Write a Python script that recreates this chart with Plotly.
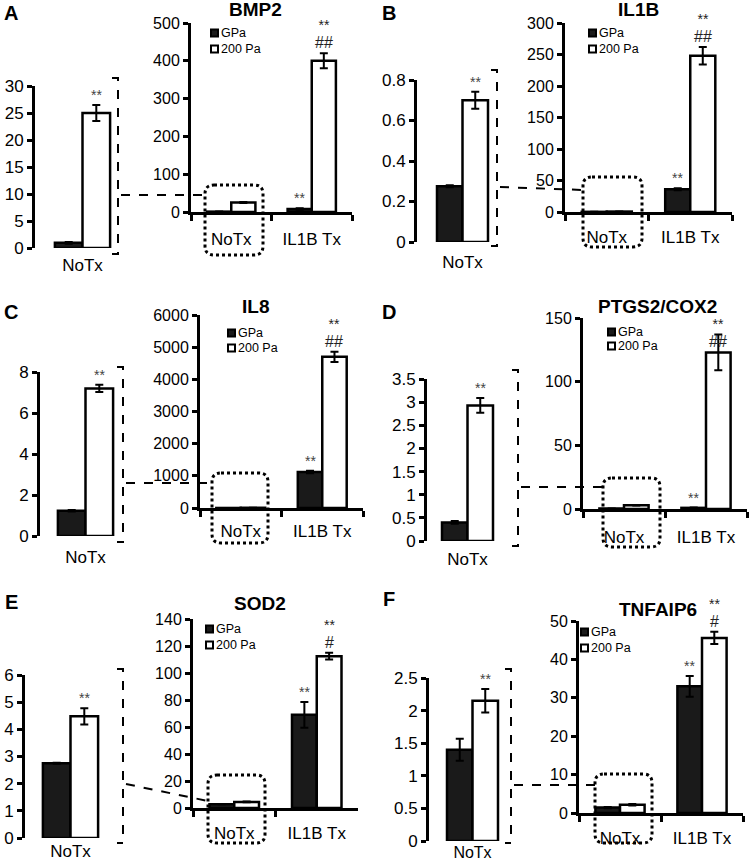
import plotly.graph_objects as go

W, H = 750, 866

# ---------------- data ----------------
genes = ["BMP2", "IL1B", "IL8", "PTGS2/COX2", "SOD2", "TNFAIP6"]
panel_letters = ["A", "B", "C", "D", "E", "F"]
categories = ["NoTx", "IL1B Tx"]
series_names = ["GPa", "200 Pa"]

gpa_notx = [0.95, 0.275, 1.23, 0.40, 2.75, 1.40]
gpa_notx_err = [0.15, 0.005, 0.04, 0.03, 0.02, 0.17]
pa200_notx = [25.0, 0.70, 7.2, 2.93, 4.48, 2.15]
pa200_notx_err = [1.5, 0.042, 0.18, 0.16, 0.30, 0.18]
gpa_il1b = [8, 36, 1120, 0.9, 69, 33]
gpa_il1b_err = [2, 1.5, 40, 0.2, 9.5, 2.7]
pa200_il1b = [400, 248, 4700, 123, 112.5, 45.6]
pa200_il1b_err = [20, 14, 160, 14, 2.5, 1.6]

inset_max = [30, 0.8, 8, 3.5, 6, 2.5]
inset_dtick = [5, 0.2, 2, 0.5, 1, 0.5]
main_max = [500, 300, 6000, 150, 140, 50]
main_dtick = [100, 50, 1000, 50, 20, 10]

sig_notx_200 = ["**", "**", "**", "**", "**", "**"]
sig_il1b_gpa = ["**", "**", "**", "**", "**", "**"]
sig_il1b_200_top = ["**", "**", "**", "**", "**", "**"]
sig_il1b_200_bottom = ["##", "##", "##", "##", "#", "#"]

# ---------------- layout geometry (pixels) ----------------
inset_x = [(36.5, 128.5), (420, 505), (39.5, 131.5), (425, 510), (24.5, 116.5), (430, 515)]
inset_axis_px = [33, 415, 38, 425, 23, 427]
inset_y = [(86, 248), (80, 242), (372, 536), (379, 541), (675, 838), (678, 841)]
inset_label_standoff = [5, 8, 9, 6, 1, 0]
inset_label_size = [17, 17, 17, 17, 17, 16]
main_x = [(191, 352), (565, 732), (200, 363), (583, 747), (193, 358), (579, 743)]
main_y = [(23, 212), (23, 212), (315, 508), (318, 509), (619, 808), (621, 813)]
main_label_standoff = [10, 8, 6, 11, 8, 8]
title_pos = [(255, 10), (638, 10), (255, 306), (657, 307), (260, 603), (658, 609)]
letter_pos = [(11, 13), (389, 13), (11, 312), (389, 312), (11, 602), (389, 599)]
legend_pos = [(210, 33, 49), (588, 33, 49), (227, 333, 348), (607, 332, 346), (205, 629, 645), (580, 632, 648)]
sig_yshift = [0, 0, 0, -17, 0, 0]
bracket = [(118, 78, 254), (497, 70, 246), (123, 367, 542), (518, 370, 546), (123, 669, 843), (511, 669, 843)]
box = [(205, 185, 263, 255), (583, 177, 642, 247), (212, 473, 268, 543),
       (603, 478, 660, 547), (208, 775, 265, 843), (595, 774, 652, 843)]
connector = [((121, 195), (205, 195)), ((500, 187), (583, 190)), ((126, 483), (212, 483)),
             ((521, 487), (603, 487)), ((126, 784), (208, 801)), ((514, 785), (595, 785))]

FONT = "Liberation Sans, Arial, sans-serif"
DARK = "#1a1a1a"


def fx(px):
    return px / W


def fy(py):
    return 1 - py / H


fig = go.Figure()
layout = dict(
    width=W, height=H, margin=dict(l=0, r=0, t=0, b=0, autoexpand=False),
    paper_bgcolor="white", plot_bgcolor="rgba(0,0,0,0)",
    barmode="group", bargap=0.4, bargroupgap=0, showlegend=False,
    font=dict(family=FONT, color="black"),
)
annotations = []
shapes = []


def err(arr):
    return dict(type="data", array=arr, color="black", thickness=2, width=4)


for k in range(6):
    ia = 2 * k + 1
    ma = 2 * k + 2
    ixn = "x" if ia == 1 else f"x{ia}"
    iyn = "y" if ia == 1 else f"y{ia}"
    mxn = f"x{ma}"
    myn = f"y{ma}"

    # inset traces
    fig.add_trace(go.Bar(x=["NoTx"], y=[gpa_notx[k]], error_y=err([gpa_notx_err[k]]),
                         marker=dict(color=DARK, line=dict(color="black", width=2.5)),
                         xaxis=ixn, yaxis=iyn, name=series_names[0]))
    fig.add_trace(go.Bar(x=["NoTx"], y=[pa200_notx[k]], error_y=err([pa200_notx_err[k]]),
                         marker=dict(color="white", line=dict(color="black", width=2.5)),
                         xaxis=ixn, yaxis=iyn, name=series_names[1]))
    # main traces
    fig.add_trace(go.Bar(x=categories, y=[gpa_notx[k], gpa_il1b[k]],
                         error_y=err([gpa_notx_err[k], gpa_il1b_err[k]]),
                         marker=dict(color=DARK, line=dict(color="black", width=2.5)),
                         xaxis=mxn, yaxis=myn, name=series_names[0]))
    fig.add_trace(go.Bar(x=categories, y=[pa200_notx[k], pa200_il1b[k]],
                         error_y=err([pa200_notx_err[k], pa200_il1b_err[k]]),
                         marker=dict(color="white", line=dict(color="black", width=2.5)),
                         xaxis=mxn, yaxis=myn, name=series_names[1]))

    # inset axes
    layout["xaxis" if ia == 1 else f"xaxis{ia}"] = dict(
        domain=[fx(inset_x[k][0]), fx(inset_x[k][1])], anchor=iyn, automargin=False,
        showline=False, ticks="", showgrid=False, zeroline=False,
        tickfont=dict(size=inset_label_size[k], family=FONT),
        ticklabelstandoff=inset_label_standoff[k], fixedrange=True)
    layout["yaxis" if ia == 1 else f"yaxis{ia}"] = dict(
        domain=[fy(inset_y[k][1]), fy(inset_y[k][0])], anchor="free", automargin=False,
        position=fx(inset_axis_px[k]), range=[0, inset_max[k]], dtick=inset_dtick[k],
        showline=True, linewidth=3, linecolor="black", ticks="outside", ticklen=5,
        tickwidth=2.5, tickcolor="black", showgrid=False, zeroline=False,
        tickfont=dict(size=17, family=FONT), fixedrange=True)
    # main axes
    layout[f"xaxis{ma}"] = dict(
        domain=[fx(main_x[k][0]), fx(main_x[k][1])], anchor=myn, automargin=False,
        showline=True, linewidth=3, linecolor="black", ticks="outside",
        tickson="boundaries", ticklen=6, tickwidth=2.5, tickcolor="black",
        showgrid=False, zeroline=False, tickfont=dict(size=17, family=FONT),
        ticklabelstandoff=main_label_standoff[k], fixedrange=True)
    layout[f"yaxis{ma}"] = dict(
        domain=[fy(main_y[k][1]), fy(main_y[k][0])], anchor=mxn, automargin=False,
        range=[0, main_max[k]], dtick=main_dtick[k],
        showline=True, linewidth=3, linecolor="black", ticks="outside", ticklen=5,
        tickwidth=2.5, tickcolor="black", showgrid=False, zeroline=False,
        tickfont=dict(size=16, family=FONT), fixedrange=True)

    # key: swatches + labels
    lx, ly1, ly2 = legend_pos[k]
    for name, yy, fill in ((series_names[0], ly1, DARK), (series_names[1], ly2, "white")):
        shapes.append(dict(type="rect", xref="paper", yref="paper",
                           x0=fx(lx + 1), x1=fx(lx + 8), y0=fy(yy + 3.5), y1=fy(yy - 3.5),
                           fillcolor=fill, line=dict(color="black", width=2)))
        annotations.append(dict(text=name, x=fx(lx + 9), y=fy(yy), xref="paper", yref="paper",
                                xanchor="left", yanchor="middle", showarrow=False,
                                font=dict(size=12.5, family=FONT)))

    # title and panel letter
    annotations.append(dict(text=f"<b>{genes[k]}</b>", x=fx(title_pos[k][0]), y=fy(title_pos[k][1]),
                            xref="paper", yref="paper", xanchor="center", yanchor="middle",
                            showarrow=False, font=dict(size=19, family=FONT)))
    annotations.append(dict(text=f"<b>{panel_letters[k]}</b>", x=fx(letter_pos[k][0]),
                            y=fy(letter_pos[k][1]), xref="paper", yref="paper",
                            xanchor="center", yanchor="middle",
                            showarrow=False, font=dict(size=20, family=FONT)))

    # significance marks
    icat = inset_x[k][1] - inset_x[k][0]
    mcat = (main_x[k][1] - main_x[k][0]) / 2
    annotations.append(dict(text=sig_notx_200[k], x="NoTx", y=pa200_notx[k] + pa200_notx_err[k],
                            xref=ixn, yref=iyn, xshift=0.15 * icat, xanchor="center", yanchor="bottom",
                            showarrow=False, font=dict(size=14, color="#444", family=FONT)))
    annotations.append(dict(text=sig_il1b_gpa[k], x="IL1B Tx", y=gpa_il1b[k] + gpa_il1b_err[k],
                            xref=mxn, yref=myn, xshift=-0.15 * mcat, xanchor="center", yanchor="bottom",
                            showarrow=False, font=dict(size=14, color="#444", family=FONT)))
    annotations.append(dict(text=f"{sig_il1b_200_top[k]}<br><span style='font-size:16px'>{sig_il1b_200_bottom[k]}</span>",
                            x="IL1B Tx", y=pa200_il1b[k] + pa200_il1b_err[k],
                            xref=mxn, yref=myn, xshift=0.15 * mcat, yshift=sig_yshift[k],
                            xanchor="center", yanchor="bottom",
                            showarrow=False, font=dict(size=14, color="#222", family=FONT)))

    # bracket around inset
    bx, bt, bb = bracket[k]
    shapes.append(dict(type="path", xref="paper", yref="paper",
                       path=f"M{fx(bx - 6)},{fy(bt)} L{fx(bx)},{fy(bt)} L{fx(bx)},{fy(bb)} L{fx(bx - 6)},{fy(bb)}",
                       line=dict(color="black", width=2, dash="dash")))
    # dotted rounded box around NoTx
    x0, y0, x1, y1 = box[k]
    r = 9
    p = (f"M{fx(x0 + r)},{fy(y0)} L{fx(x1 - r)},{fy(y0)} Q{fx(x1)},{fy(y0)} {fx(x1)},{fy(y0 + r)} "
         f"L{fx(x1)},{fy(y1 - r)} Q{fx(x1)},{fy(y1)} {fx(x1 - r)},{fy(y1)} "
         f"L{fx(x0 + r)},{fy(y1)} Q{fx(x0)},{fy(y1)} {fx(x0)},{fy(y1 - r)} "
         f"L{fx(x0)},{fy(y0 + r)} Q{fx(x0)},{fy(y0)} {fx(x0 + r)},{fy(y0)} Z")
    shapes.append(dict(type="path", xref="paper", yref="paper", path=p,
                       line=dict(color="black", width=3, dash="dot")))
    # connector
    (cx0, cy0), (cx1, cy1) = connector[k]
    shapes.append(dict(type="line", xref="paper", yref="paper",
                       x0=fx(cx0), y0=fy(cy0), x1=fx(cx1), y1=fy(cy1),
                       line=dict(color="black", width=2, dash="dash")))

layout["annotations"] = annotations
layout["shapes"] = shapes
fig.update_layout(**layout)
fig.write_html("out.html", config={"displayModeBar": False},
               post_script="document.body.style.margin='0px';document.body.style.overflow='hidden';")
